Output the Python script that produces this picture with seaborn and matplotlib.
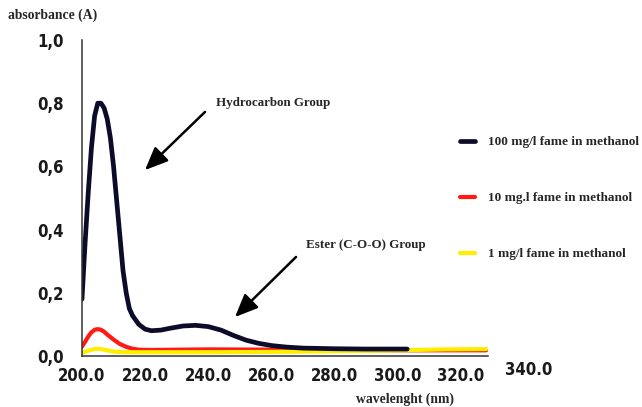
"""
UV absorbance spectra of FAME in methanol - recreated chart
"""
import numpy as np
import pandas as pd
import matplotlib
matplotlib.use("Agg")
import matplotlib.pyplot as plt
from matplotlib.ticker import FuncFormatter
from matplotlib import font_manager
import seaborn as sns

# data
wl_100 = [200, 201, 202, 203, 204, 205, 206, 207, 208, 209, 210, 211, 212, 213, 214,
          215, 216, 218, 220, 222, 225, 228, 232, 236, 240, 244, 248, 252, 256, 260,
          265, 270, 280, 290, 303]
abs_100 = [0.18, 0.36, 0.52, 0.66, 0.76, 0.80, 0.80, 0.785, 0.75, 0.69, 0.60, 0.49, 0.38,
           0.27, 0.20, 0.15, 0.128, 0.10, 0.085, 0.08, 0.082, 0.088, 0.095, 0.097, 0.093,
           0.082, 0.065, 0.05, 0.04, 0.033, 0.028, 0.025, 0.023, 0.022, 0.022]

wl_10 = [200, 201, 202, 203, 204, 205, 206, 207, 208, 210, 212, 214, 216, 218, 222,
         230, 240, 260, 280, 300, 328]
abs_10 = [0.03, 0.045, 0.062, 0.075, 0.083, 0.085, 0.083, 0.077, 0.068, 0.052, 0.038,
          0.029, 0.023, 0.02, 0.019, 0.02, 0.021, 0.02, 0.019, 0.018, 0.018]

wl_1 = [200, 202, 204, 205, 206, 208, 210, 214, 220, 240, 260, 280, 300, 315, 328]
abs_1 = [0.01, 0.017, 0.022, 0.023, 0.022, 0.018, 0.014, 0.012, 0.012, 0.012, 0.013,
         0.015, 0.018, 0.021, 0.022]

labels = ["100 mg/l fame in methanol", "10 mg.l fame in methanol", "1 mg/l fame in methanol"]
colors = ["#0c0c2a", "#ff1a14", "#ffee00"]
x_ticks = [200, 220, 240, 260, 280, 300, 320]
y_ticks = [0.0, 0.2, 0.4, 0.6, 0.8, 1.0]

sns.set_style("white")
plt.rcParams['font.family'] = ['DejaVu Sans']
serif = ['Liberation Serif', 'DejaVu Serif']
tick_font = font_manager.FontProperties(family='DejaVu Sans', stretch='condensed',
                                        weight='bold', size=12)

fig = plt.figure(figsize=(6.42, 4.07), dpi=100)
ax = fig.add_axes([0.1277, 0.1253, 0.632, 0.7764])

# draw order: red, yellow, then black on top
sns.lineplot(x=wl_10, y=abs_10, ax=ax, color=colors[1], lw=3, label=labels[1])
sns.lineplot(x=wl_1, y=abs_1, ax=ax, color=colors[2], lw=3, label=labels[2])
sns.lineplot(x=wl_100, y=abs_100, ax=ax, color=colors[0], lw=3.4, label=labels[0])

ax.set_xlim(200, 328.5)
ax.set_ylim(0, 1.0)
ax.set_xticks(x_ticks)
ax.set_yticks(y_ticks)
ax.xaxis.set_major_formatter(FuncFormatter(lambda v, p: f"{v:.1f}"))
ax.yaxis.set_major_formatter(FuncFormatter(lambda v, p: f"{v:.1f}".replace(".", ",")))
ax.tick_params(axis='both', direction='out', length=4, width=1, color='#333333')
ax.tick_params(axis='x', pad=4)
ax.tick_params(axis='y', pad=9)
for lab in ax.get_xticklabels() + ax.get_yticklabels():
    lab.set_fontproperties(tick_font)
    lab.set_color('#1a1a1a')
ax.text(341.5, -0.016, "340.0", transform=ax.transData, ha='center', va='top',
        fontproperties=tick_font, color='#1a1a1a', clip_on=False)

sns.despine(ax=ax)
for side in ['left', 'bottom']:
    ax.spines[side].set_color('#333333')
    ax.spines[side].set_linewidth(1.1)
ax.set_xlabel("")
ax.set_ylabel("")

# axis titles
fig.text(8 / 642, 1 - 15 / 407, "absorbance (A)", family=serif, fontweight='bold',
         fontsize=9.8, ha='left', va='center')
fig.text(405 / 642, 1 - 399 / 407, "wavelenght (nm)", family=serif, fontweight='bold',
         fontsize=9.8, ha='center', va='center')

# annotations with arrows
arrow = dict(arrowstyle='-|>,head_length=1.4,head_width=0.6', color='black', lw=1.8)
ax.annotate("", xy=(143 / 642, 1 - 172 / 407), xytext=(207 / 642, 1 - 110 / 407),
            xycoords='figure fraction', textcoords='figure fraction', arrowprops=arrow)
fig.text(216 / 642, 1 - 103 / 407, "Hydrocarbon Group", family=serif, fontweight='bold',
         fontsize=9.4, ha='left', va='center')
ax.annotate("", xy=(233 / 642, 1 - 319 / 407), xytext=(298 / 642, 1 - 255 / 407),
            xycoords='figure fraction', textcoords='figure fraction', arrowprops=arrow)
fig.text(306 / 642, 1 - 245 / 407, "Ester (C-O-O) Group", family=serif, fontweight='bold',
         fontsize=9.4, ha='left', va='center')

# legend on the right
handles, labs = ax.get_legend_handles_labels()
order = [labs.index(l) for l in labels]
ax.legend([handles[i] for i in order], [labs[i] for i in order],
          loc='upper left', bbox_to_anchor=(448 / 642, 1 - 124 / 407),
          bbox_transform=fig.transFigure, frameon=False, handlelength=1.1,
          handletextpad=1.0, labelspacing=3.3,
          prop=dict(family=serif, weight='bold', size=9.55))

fig.savefig("out.png", dpi=100, facecolor='white')
